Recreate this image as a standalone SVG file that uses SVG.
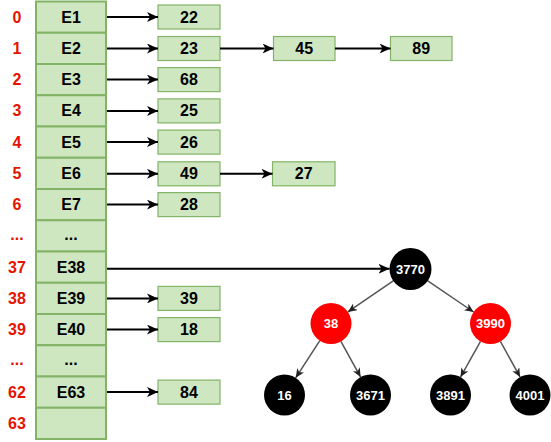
<svg xmlns="http://www.w3.org/2000/svg" width="551" height="442" viewBox="0 0 551 442">
<defs>
<style>
.cell{fill:#cfe7c1;stroke:#82b366;stroke-width:2}
.box{fill:#cfe7c1;stroke:#82b366;stroke-width:1.2}
.t{font-family:"Liberation Sans",Arial,sans-serif;font-weight:bold;font-size:16px;fill:#000;text-anchor:middle;dominant-baseline:central}
.idx{font-family:"Liberation Sans",Arial,sans-serif;font-weight:bold;font-size:16px;fill:#e51400;text-anchor:middle;dominant-baseline:central}
.ct{font-family:"Liberation Sans",Arial,sans-serif;font-weight:bold;font-size:13px;fill:#fff;text-anchor:middle;dominant-baseline:central}
.a{stroke:#000;stroke-width:2;fill:none;marker-end:url(#ah)}
.e{stroke:#555;stroke-width:1.5;fill:none;marker-end:url(#ah2)}
</style>
<marker id="ah" markerUnits="userSpaceOnUse" markerWidth="12" markerHeight="10" refX="11" refY="5" orient="auto"><path d="M0,0 L11,5 L0,10 L3,5 Z" fill="#000"/></marker>
<marker id="ah2" markerUnits="userSpaceOnUse" markerWidth="10" markerHeight="8" refX="9" refY="4" orient="auto"><path d="M0,0 L9,4 L0,8 L2.5,4 Z" fill="#222"/></marker>
</defs>
<g id="index-labels">
<text class="idx" x="17" y="17">0</text>
<text class="idx" x="17" y="48.4">1</text>
<text class="idx" x="17" y="79.6">2</text>
<text class="idx" x="17" y="110.9">3</text>
<text class="idx" x="17" y="142.1">4</text>
<text class="idx" x="17" y="173.4">5</text>
<text class="idx" x="17" y="204.6">6</text>
<text class="idx" x="17" y="234">...</text>
<text class="idx" x="17" y="267.1">37</text>
<text class="idx" x="17" y="298.4">38</text>
<text class="idx" x="17" y="329.6">39</text>
<text class="idx" x="17" y="359">...</text>
<text class="idx" x="17" y="392.1">62</text>
<text class="idx" x="17" y="423.4">63</text>
</g>
<g id="table">
<g id="cell0"><rect class="cell" x="36" y="1.5" width="70" height="31.25"/><text class="t" x="71" y="17">E1</text></g>
<g id="cell1"><rect class="cell" x="36" y="32.75" width="70" height="31.25"/><text class="t" x="71" y="48.4">E2</text></g>
<g id="cell2"><rect class="cell" x="36" y="64" width="70" height="31.25"/><text class="t" x="71" y="79.6">E3</text></g>
<g id="cell3"><rect class="cell" x="36" y="95.25" width="70" height="31.25"/><text class="t" x="71" y="110.9">E4</text></g>
<g id="cell4"><rect class="cell" x="36" y="126.5" width="70" height="31.25"/><text class="t" x="71" y="142.1">E5</text></g>
<g id="cell5"><rect class="cell" x="36" y="157.75" width="70" height="31.25"/><text class="t" x="71" y="173.4">E6</text></g>
<g id="cell6"><rect class="cell" x="36" y="189" width="70" height="31.25"/><text class="t" x="71" y="204.6">E7</text></g>
<g id="cell7"><rect class="cell" x="36" y="220.25" width="70" height="31.25"/><text class="t" x="71" y="234">...</text></g>
<g id="cell37"><rect class="cell" x="36" y="251.5" width="70" height="31.25"/><text class="t" x="71" y="267.6">E38</text></g>
<g id="cell38"><rect class="cell" x="36" y="282.75" width="70" height="31.25"/><text class="t" x="71" y="298.4">E39</text></g>
<g id="cell39"><rect class="cell" x="36" y="314" width="70" height="31.25"/><text class="t" x="71" y="329.6">E40</text></g>
<g id="cell40"><rect class="cell" x="36" y="345.25" width="70" height="31.25"/><text class="t" x="71" y="359">...</text></g>
<g id="cell62"><rect class="cell" x="36" y="376.5" width="70" height="31.25"/><text class="t" x="71" y="392.1">E63</text></g>
<g id="cell63"><rect class="cell" x="36" y="407.75" width="70" height="31.25"/></g>
</g>
<g id="values">
<g id="v22"><rect class="box" x="158" y="5" width="62" height="24"/><text class="t" x="189" y="17">22</text></g>
<g id="v23"><rect class="box" x="158" y="36.5" width="62" height="24"/><text class="t" x="189" y="48.5">23</text></g>
<g id="v45"><rect class="box" x="273.5" y="36.5" width="61.5" height="24"/><text class="t" x="304.2" y="48.5">45</text></g>
<g id="v89"><rect class="box" x="390.5" y="36.5" width="61.5" height="24"/><text class="t" x="421.2" y="48.5">89</text></g>
<g id="v68"><rect class="box" x="158" y="67.6" width="62" height="24"/><text class="t" x="189" y="79.6">68</text></g>
<g id="v25"><rect class="box" x="158" y="98.9" width="62" height="24"/><text class="t" x="189" y="110.9">25</text></g>
<g id="v26"><rect class="box" x="158" y="130.1" width="62" height="24"/><text class="t" x="189" y="142.1">26</text></g>
<g id="v49"><rect class="box" x="158" y="161.8" width="62" height="24"/><text class="t" x="189" y="173.8">49</text></g>
<g id="v27"><rect class="box" x="272.5" y="161.8" width="62.5" height="24"/><text class="t" x="303.7" y="173.8">27</text></g>
<g id="v28"><rect class="box" x="158" y="192.6" width="62" height="24"/><text class="t" x="189" y="204.6">28</text></g>
<g id="v39"><rect class="box" x="158" y="286.4" width="62" height="24"/><text class="t" x="189" y="298.4">39</text></g>
<g id="v18"><rect class="box" x="158" y="317.6" width="62" height="24"/><text class="t" x="189" y="329.6">18</text></g>
<g id="v84"><rect class="box" x="158" y="380.1" width="62" height="24"/><text class="t" x="189" y="392.1">84</text></g>
</g>
<g id="connectors">
<line class="a" x1="107" y1="17" x2="158" y2="17"/>
<line class="a" x1="107" y1="48.5" x2="158" y2="48.5"/>
<line class="a" x1="220" y1="48.5" x2="273.5" y2="48.5"/>
<line class="a" x1="335" y1="48.5" x2="390.5" y2="48.5"/>
<line class="a" x1="107" y1="79.6" x2="158" y2="79.6"/>
<line class="a" x1="107" y1="110.9" x2="158" y2="110.9"/>
<line class="a" x1="107" y1="142.1" x2="158" y2="142.1"/>
<line class="a" x1="107" y1="173.8" x2="158" y2="173.8"/>
<line class="a" x1="220" y1="173.8" x2="272.5" y2="173.8"/>
<line class="a" x1="107" y1="204.6" x2="158" y2="204.6"/>
<line class="a" x1="107" y1="268.8" x2="389.5" y2="268.8"/>
<line class="a" x1="107" y1="298.4" x2="158" y2="298.4"/>
<line class="a" x1="107" y1="329.6" x2="158" y2="329.6"/>
<line class="a" x1="107" y1="392.1" x2="158" y2="392.1"/>
<line class="e" x1="393.2" y1="280.9" x2="347.9" y2="311.9"/>
<line class="e" x1="427.8" y1="280.8" x2="473.6" y2="312"/>
<line class="e" x1="319.8" y1="340.7" x2="295.7" y2="377.8"/>
<line class="e" x1="340.9" y1="341.4" x2="360.6" y2="377.1"/>
<line class="e" x1="480.5" y1="341.4" x2="460.5" y2="377.1"/>
<line class="e" x1="500.4" y1="341.4" x2="520.1" y2="377.1"/>
</g>
<g id="n3770"><circle cx="410.5" cy="269" r="21" fill="#000"/><text class="ct" x="410.5" y="269">3770</text></g>
<g id="n38"><circle cx="331" cy="323.5" r="20.5" fill="#ff0000"/><text class="ct" x="331" y="323.5">38</text></g>
<g id="n3990"><circle cx="490.5" cy="323.5" r="20.5" fill="#ff0000"/><text class="ct" x="490.5" y="323.5">3990</text></g>
<g id="n16"><circle cx="284.5" cy="395" r="20.5" fill="#000"/><text class="ct" x="284.5" y="395">16</text></g>
<g id="n3671"><circle cx="370.5" cy="395" r="20.5" fill="#000"/><text class="ct" x="370.5" y="395">3671</text></g>
<g id="n3891"><circle cx="450.5" cy="395" r="20.5" fill="#000"/><text class="ct" x="450.5" y="395">3891</text></g>
<g id="n4001"><circle cx="530" cy="395" r="20.5" fill="#000"/><text class="ct" x="530" y="395">4001</text></g>
</svg>
